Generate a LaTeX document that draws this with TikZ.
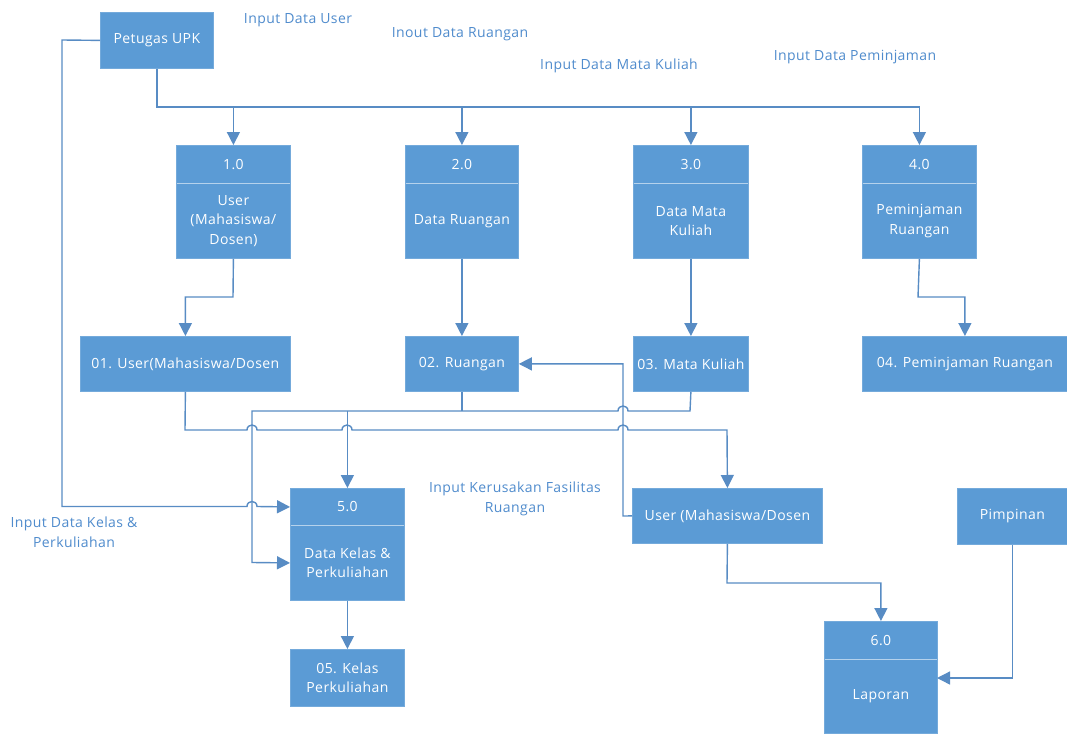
\documentclass[tikz,border=0pt]{standalone}
\usepackage{fontspec}
\setmainfont{Open Sans}[LetterSpace=3]
\usetikzlibrary{arrows.meta}
\definecolor{boxblue}{RGB}{91,155,213}
\definecolor{lineblue}{RGB}{88,140,196}
\definecolor{txtblue}{RGB}{80,140,205}
\newcommand\bfont{\fontsize{14}{19.5}\selectfont}
\tikzset{
 flow/.style={draw=lineblue, line width=1.4pt},
 arr/.style={flow, -{Triangle[width=13pt,length=13pt]}},
 blk/.style={fill=boxblue, draw=boxblue!85!white, line width=0.8pt, text=white, inner sep=0pt, align=center, anchor=north west, font=\bfont},
 lbl/.style={text=txtblue, align=center, inner sep=0pt, font=\bfont},
 divider/.style={draw=white!55!boxblue, line width=1pt},
}
\begin{document}
\begin{tikzpicture}[x=1pt,y=-1pt]
\fill[white] (0,0) rectangle (1067,733);
\useasboundingbox (0,0) rectangle (1067,733);
% external entities and stores
\node[blk, minimum width=113pt, minimum height=56pt] (upk) at (100,12) {Petugas UPK};
\node[blk, minimum width=190pt, minimum height=55pt] (user) at (632,488) {User (Mahasiswa/Dosen};
\node[blk, minimum width=110pt, minimum height=56pt] (pim) at (957,488) {Pimpinan};
\node[blk, minimum width=210pt, minimum height=55pt] (s1) at (80,336) {01. User(Mahasiswa/Dosen};
\node[blk, minimum width=113pt, minimum height=55pt] (s2) at (405,336) {02. Ruangan};
\node[blk, minimum width=115pt, minimum height=55pt] (s3) at (633,336) {03. Mata Kuliah};
\node[blk, minimum width=205pt, minimum height=55pt] (s4) at (862,336) {04. Peminjaman Ruangan};
\node[blk, minimum width=114pt, minimum height=57pt] (s5) at (290,649) {05. Kelas\\Perkuliahan};
% processes
\node[blk, minimum width=114pt, minimum height=38pt] (p1h) at (176,145) {1.0};
\node[blk, minimum width=114pt, minimum height=75pt] (p1) at (176,183) {User\\(Mahasiswa/\\Dosen)};
\node[blk, minimum width=113pt, minimum height=38pt] (p2h) at (405,145) {2.0};
\node[blk, minimum width=113pt, minimum height=75pt] (p2) at (405,183) {Data Ruangan};
\node[blk, minimum width=115pt, minimum height=38pt] (p3h) at (633,145) {3.0};
\node[blk, minimum width=115pt, minimum height=75pt] (p3) at (633,183) {Data Mata\\Kuliah};
\node[blk, minimum width=114pt, minimum height=38pt] (p4h) at (862,145) {4.0};
\node[blk, minimum width=114pt, minimum height=75pt] (p4) at (862,183) {Peminjaman\\Ruangan};
\node[blk, minimum width=114pt, minimum height=37pt] (p5h) at (290,488) {5.0};
\node[blk, minimum width=114pt, minimum height=75pt] (p5) at (290,525) {Data Kelas \&\\Perkuliahan};
\node[blk, minimum width=113pt, minimum height=38pt] (p6h) at (824,621) {6.0};
\node[blk, minimum width=113pt, minimum height=74pt] (p6) at (824,659) {Laporan};
\foreach \p in {p1,p2,p3,p4,p5,p6}{
  \draw[divider] ([xshift=0.5pt]\p.north west) -- ([xshift=-0.5pt]\p.north east);
}
% labels
\node[lbl] (l1) at (298,20) {Input Data User};
\node[lbl] (l2) at (460,34) {Inout Data Ruangan};
\node[lbl] (l3) at (619,66) {Input Data Mata Kuliah};
\node[lbl] (l4) at (855,57) {Input Data Peminjaman};
\node[lbl] (l5) at (74,532) {Input Data Kelas \&\\Perkuliahan};
\node[lbl] (l6) at (515,499) {Input Kerusakan Fasilitas\\Ruangan};
% coordinates
\coordinate (bus) at (155,107);
\coordinate (p6in) at (937,678);
\coordinate (ujog) at (623,516);
% Petugas UPK bus to processes
\draw[arr] (upk.south) -- (upk.south |- bus) -| (p4h.north);
\draw[arr] (p1h.north |- bus) -- (p1h.north);
\draw[arr] (p2h.north |- bus) -- (p2h.north);
\draw[arr] (p3h.north |- bus) -- (p3h.north);
% Petugas UPK to 5.0
\draw[arr] (upk.west) -- (62,40) -- (62,506.5) -- (247,506.5) .. controls (247,499.8) and (257,499.8) .. (257,506.5) -- (p5h.west);
% processes to stores
\draw[arr] (p1.south) -- (233,297) -| (s1.north);
\draw[arr] (p2.south) -- (s2.north);
\draw[arr] (p3.south) -- (s3.north);
\draw[arr] (p4.south) -- (918,297) -| (s4.north);
% store 01 to user
\draw[arr] (s1.south) -- (185,430) -- (247,430) .. controls (247,423.3) and (257,423.3) .. (257,430)
  -- (342,430) .. controls (342,423.3) and (352,423.3) .. (352,430)
  -- (618,430) .. controls (618,423.3) and (628,423.3) .. (628,430)
  -- (727,430) -- (user.north);
% stores 02, 03 to 5.0
\draw[arr] (s3.south) -- (690,411) -- (628,411) .. controls (628,404.3) and (618,404.3) .. (618,411)
  -- (252,411) -- (252,562.5) -- (p5.west);
\draw[flow] (s2.south) -- (s2.south |- 0,411);
\draw[arr] (p5h.north |- 0,411) -- (p5h.north);
% user to store 02
\draw[arr] (user.west) -- (ujog) -- (ujog |- s2.east) -- (s2.east);
% 5.0 to store 05
\draw[arr] (p5.south) -- (s5.north);
% user to 6.0
\draw[arr] (user.south) -- (727,583) -| (p6h.north);
% Pimpinan to 6.0
\draw[arr] (pim.south) |- (p6in);
\end{tikzpicture}
\end{document}
